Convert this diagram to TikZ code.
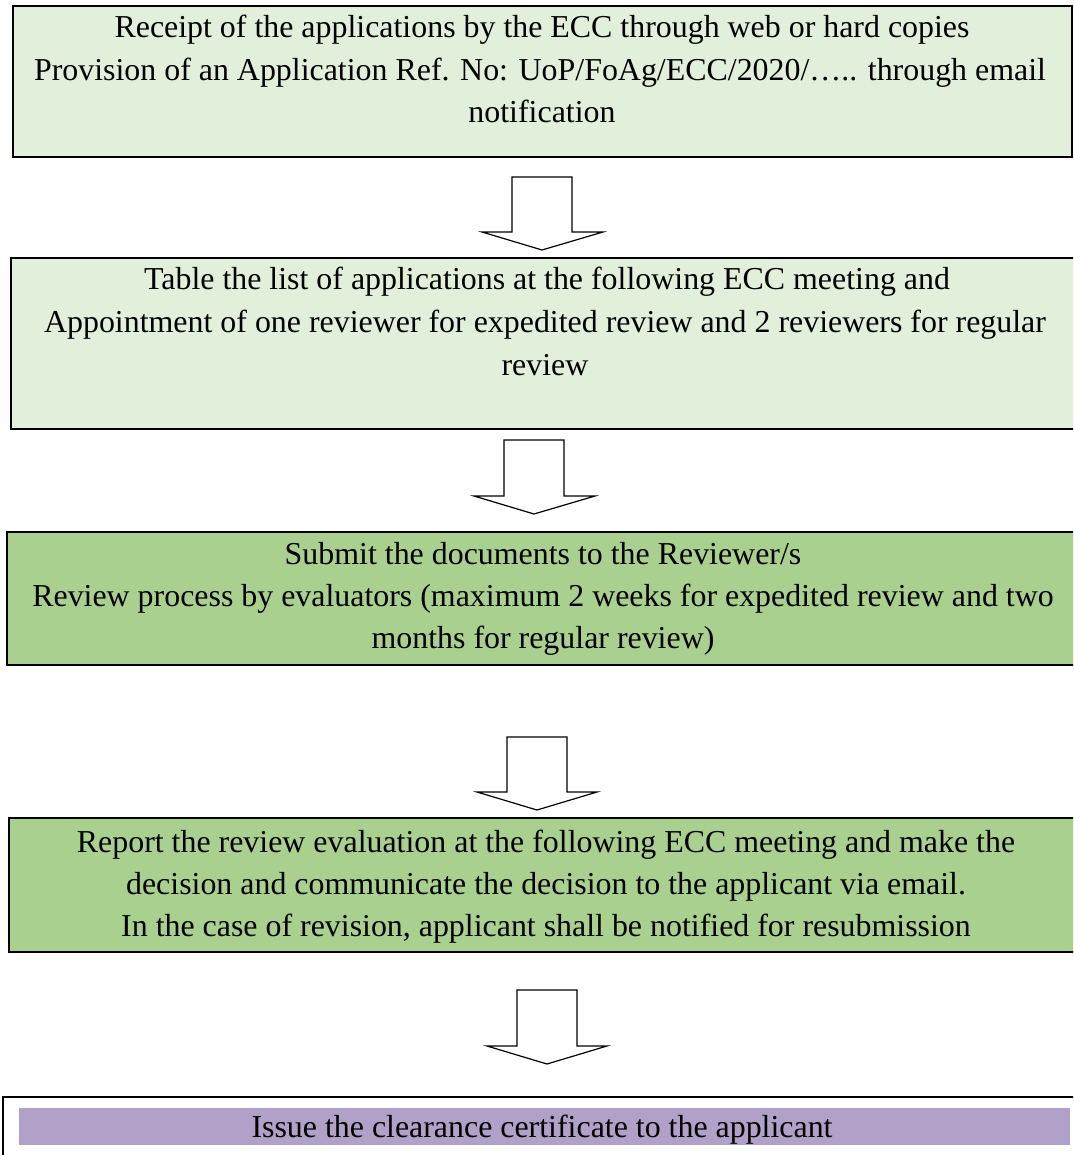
\documentclass[tikz,border=0pt]{standalone}
\usepackage{fontspec}
\setmainfont{Liberation Serif}
\definecolor{lightgr}{HTML}{E2EFDA}
\definecolor{midgr}{HTML}{A9D08E}
\definecolor{lilac}{HTML}{B1A0C7}
\begin{document}
\begin{tikzpicture}[x=1pt,y=-1pt,
  boxa/.style={draw=black,line width=1.2pt,fill=lightgr},
  boxb/.style={draw=black,line width=1.2pt,fill=midgr},
  ln/.style={anchor=base,inner sep=0pt,font=\fontsize{31.9}{42}\selectfont},
  blockarrow/.style={draw=black,line width=1.2pt,fill=white,line join=miter}]
\useasboundingbox (0,0) rectangle (1073,1155);
\clip (0,0) rectangle (1073,1155);
% boxes
\draw[boxa] (13,6) rectangle (1072,157);
\draw[boxa] (11,258) rectangle (1080,429);
\draw[boxb] (7,532) rectangle (1080,665);
\draw[boxb] (9,818) rectangle (1080,952);
\draw[black,line width=1.6pt,fill=white] (3,1097) rectangle (1085,1170);
\fill[lilac] (19,1108) rectangle (1070,1145);
% arrows
\draw[blockarrow] (512,177) -- (572,177) -- (572,232) -- (603,232) -- (542,250) -- (482,232) -- (512,232) -- cycle;
\draw[blockarrow] (504,440) -- (564,440) -- (564,496) -- (595,496) -- (534,514) -- (474,496) -- (504,496) -- cycle;
\draw[blockarrow] (507,737) -- (567,737) -- (567,792) -- (597,792) -- (537,810) -- (477,792) -- (507,792) -- cycle;
\draw[blockarrow] (517,990) -- (577,990) -- (577,1046) -- (607,1046) -- (547,1064) -- (487,1046) -- (517,1046) -- cycle;
% texts
\node[ln] (a1) at (542,38) {Receipt of the applications by the ECC through web or hard copies};
\node[ln] (a2) at (540,81) {Provision of an Application Ref. No: UoP/FoAg/ECC/2020/….. through email};
\node[ln] (a3) at (542,123) {notification};
\node[ln] (b1) at (547,290) {Table the list of applications at the following ECC meeting and};
\node[ln] (b2) at (545,332) {Appointment of one reviewer for expedited review and 2 reviewers for regular};
\node[ln] (b3) at (545,375) {review};
\node[ln] (c1) at (543,564) {Submit the documents to the Reviewer/s};
\node[ln] (c2) at (543,606) {Review process by evaluators (maximum 2 weeks for expedited review and two};
\node[ln] (c3) at (543,648) {months for regular review)};
\node[ln] (d1) at (546,852) {Report the review evaluation at the following ECC meeting and make the};
\node[ln] (d2) at (546,894) {decision and communicate the decision to the applicant via email.};
\node[ln] (d3) at (546,936) {In the case of revision, applicant shall be notified for resubmission};
\node[ln] (e1) at (542,1137) {Issue the clearance certificate to the applicant};
\end{tikzpicture}
\end{document}
